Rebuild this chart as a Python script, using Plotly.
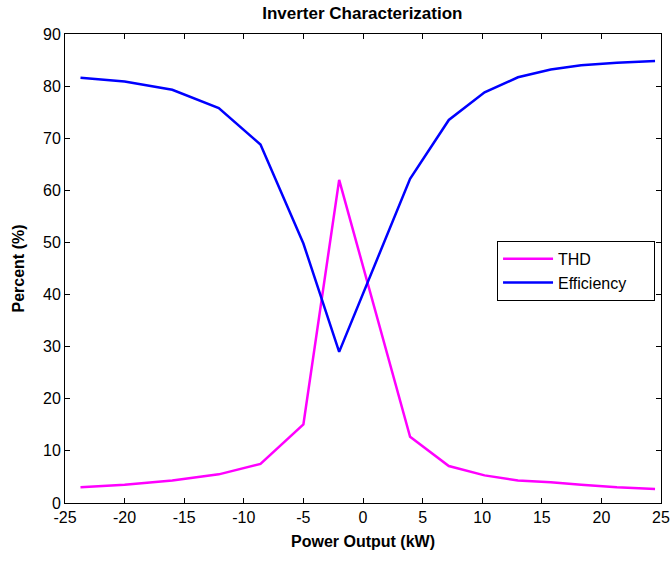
import plotly.graph_objects as go

power_kw = [-23.7, -20.0, -16.0, -12.1, -8.6, -5.0, -2.0, 3.95, 7.2, 10.2, 13.0, 15.75, 18.3, 21.3, 24.5]
thd = [3.0, 3.5, 4.3, 5.5, 7.5, 15.1, 62.0, 12.7, 7.1, 5.3, 4.3, 4.0, 3.5, 3.0, 2.7]
efficiency = [81.6, 80.9, 79.3, 75.8, 68.8, 49.8, 29.0, 62.2, 73.5, 78.8, 81.7, 83.2, 84.0, 84.5, 84.8]

x_ticks = [-25, -20, -15, -10, -5, 0, 5, 10, 15, 20, 25]
x_tick_labels = ["-25", "-20", "-15", "-10", "-5", "0", "5", "10", "15", "20", "25"]
y_ticks = [0, 10, 20, 30, 40, 50, 60, 70, 80, 90]

font_family = "Liberation Sans, Arial, sans-serif"
pad = "\u00a0" * 5

fig = go.Figure()
fig.add_trace(go.Scatter(x=power_kw, y=thd, mode="lines", name="THD" + pad,
                         line=dict(color="#FF00FF", width=2.5)))
fig.add_trace(go.Scatter(x=power_kw, y=efficiency, mode="lines", name="Efficiency" + pad,
                         line=dict(color="#0000FF", width=2.5)))

axis_common = dict(showline=True, linecolor="black", linewidth=1, mirror="ticks",
                   ticks="inside", ticklen=5, tickcolor="black", showgrid=False,
                   zeroline=False, automargin=False,
                   tickfont=dict(family=font_family, size=16, color="black"))

fig.update_layout(
    width=671, height=561,
    margin=dict(l=65, r=10, t=34, b=58),
    paper_bgcolor="white", plot_bgcolor="white",
    title=dict(text="<b>Inverter Characterization</b>", x=0.54, xanchor="center",
               y=0.976, yanchor="middle",
               font=dict(family=font_family, size=17, color="black")),
    xaxis=dict(range=[-25, 25], tickvals=x_ticks, ticktext=x_tick_labels,
               title=dict(text="<b>Power Output (kW)</b>", standoff=10,
                          font=dict(family=font_family, size=16, color="black")),
               **axis_common),
    yaxis=dict(range=[0, 90], tickvals=y_ticks,
               title=dict(text="<b>Percent (%)</b>", standoff=14,
                          font=dict(family=font_family, size=16, color="black")),
               **axis_common),
    legend=dict(x=0.99, y=0.559, xanchor="right", yanchor="top",
                bordercolor="black", borderwidth=1, bgcolor="white",
                font=dict(family=font_family, size=16, color="black"),
                itemwidth=50, tracegroupgap=0),
    showlegend=True,
)

fig.write_html("out.html")
